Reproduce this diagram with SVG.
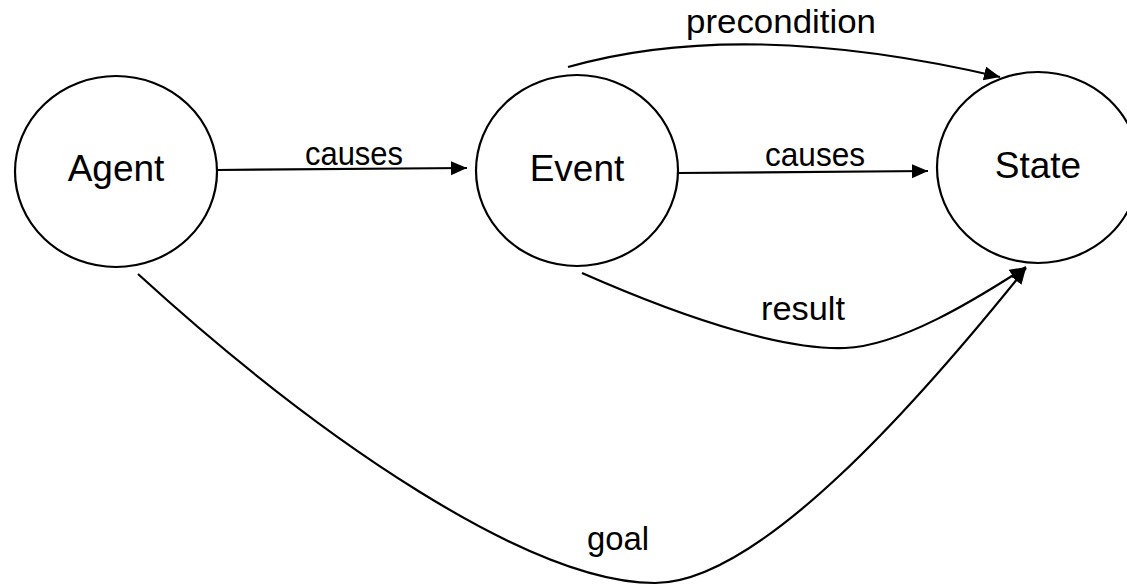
<svg xmlns="http://www.w3.org/2000/svg" width="1127" height="586" viewBox="0 0 1127 586">
<style>
.node{fill:#fff;stroke:#000;stroke-width:2.2}
.nt{font-family:"Liberation Sans",Arial,sans-serif;font-size:37px;fill:#000;text-anchor:middle}
.edge{fill:none;stroke:#000;stroke-width:2.2}
.lt{font-family:"Liberation Sans",Arial,sans-serif;font-size:33px;fill:#000;text-anchor:middle}
</style>
<defs>
<marker id="arrow" markerUnits="userSpaceOnUse" markerWidth="18" markerHeight="16" refX="16" refY="7" orient="auto">
<path d="M0,0 L16,7 L0,14 z" fill="#000"/>
</marker>
</defs>
<rect width="1127" height="586" fill="#fff"/>
<g id="node-agent">
<ellipse class="node" cx="116" cy="171.5" rx="101" ry="95.5"/>
<text class="nt" x="116" y="181">Agent</text>
</g>
<g id="node-event">
<ellipse class="node" cx="577" cy="170.5" rx="101" ry="95.5"/>
<text class="nt" x="577" y="181">Event</text>
</g>
<g id="node-state">
<ellipse class="node" cx="1038" cy="167.5" rx="101" ry="95.5"/>
<text class="nt" x="1038" y="178">State</text>
</g>
<g id="connectors">
<path class="edge" d="M217,170 L467,168" marker-end="url(#arrow)"/>
<text class="lt" x="354" y="165" textLength="98" lengthAdjust="spacingAndGlyphs">causes</text>
<path class="edge" d="M678,173 L928,171" marker-end="url(#arrow)"/>
<text class="lt" x="815" y="166" textLength="100" lengthAdjust="spacingAndGlyphs">causes</text>
<path class="edge" d="M568,67 C680,35 820,35 1000,77" marker-end="url(#arrow)"/>
<text class="lt" x="781" y="33" textLength="190" lengthAdjust="spacingAndGlyphs">precondition</text>
<path class="edge" d="M582,273 C700,325 790,350 845,348 C900,346 975,300 1026,267" marker-end="url(#arrow)"/>
<text class="lt" x="803" y="320" textLength="84" lengthAdjust="spacingAndGlyphs">result</text>
<path class="edge" d="M138,274 C320,440 530,583 655,583 C760,583 920,400 1026,268" marker-end="url(#arrow)"/>
<text class="lt" x="618" y="550" textLength="62" lengthAdjust="spacingAndGlyphs">goal</text>
</g>
</svg>
